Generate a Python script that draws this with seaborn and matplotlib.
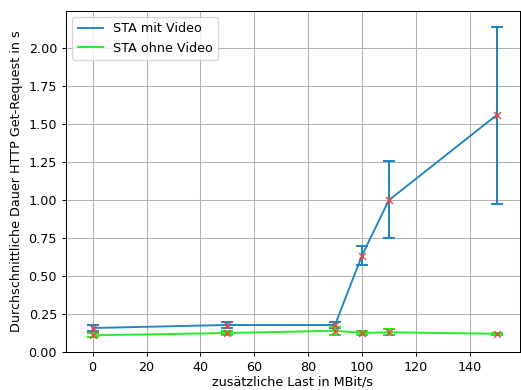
import matplotlib
matplotlib.use("Agg")
import matplotlib.pyplot as plt
import seaborn as sns
import pandas as pd

load = [0, 50, 90, 100, 110, 150]
mit_mean = [0.158, 0.178, 0.178, 0.635, 1.0, 1.56]
mit_err_lo = [0.02, 0.02, 0.02, 0.065, 0.25, 0.585]
mit_err_hi = [0.02, 0.02, 0.02, 0.065, 0.255, 0.58]
ohne_mean = [0.11, 0.125, 0.14, 0.125, 0.13, 0.12]
ohne_err = [0.012, 0.012, 0.025, 0.012, 0.02, 0.008]

blue = "#2386c0"
green = "#22ee22"

dpi = 92
fig, ax = plt.subplots(figsize=(521 / dpi, 390 / dpi), dpi=dpi)

df = pd.DataFrame({
    "load": load * 2,
    "mean": mit_mean + ohne_mean,
    "series": ["STA mit Video"] * len(load) + ["STA ohne Video"] * len(load),
})
sns.lineplot(data=df, x="load", y="mean", hue="series",
             palette={"STA mit Video": blue, "STA ohne Video": green},
             ax=ax, linewidth=1.5, zorder=2)

ax.errorbar(load, mit_mean, yerr=[mit_err_lo, mit_err_hi], fmt="none",
            ecolor=blue, elinewidth=1.6, capsize=5, capthick=1.6, zorder=3)
ax.errorbar(load, ohne_mean, yerr=[ohne_err, ohne_err], fmt="none",
            ecolor=green, elinewidth=1.6, capsize=5, capthick=1.6, zorder=3)
ax.scatter(load, mit_mean, marker="x", color="#ee4444", s=28, linewidths=1.1, zorder=4)
ax.scatter(load, ohne_mean, marker="x", color="#ee4444", s=28, linewidths=1.1, zorder=4)

ax.set_xlim(-9.9, 158.7)
ax.set_ylim(0, 2.246)
ax.set_xlabel("zusätzliche Last in MBit/s", labelpad=1.5)
ax.set_ylabel("Durchschnittliche Dauer HTTP Get-Request in s")
ax.grid(True, color="#b0b0b0", linewidth=0.8)
ax.set_axisbelow(True)
leg = ax.legend(loc="upper left", title=None)

fig.subplots_adjust(left=66 / 521, right=520 / 521, top=1 - 11 / 390, bottom=1 - 352 / 390)
fig.savefig("out.png", dpi=dpi)
